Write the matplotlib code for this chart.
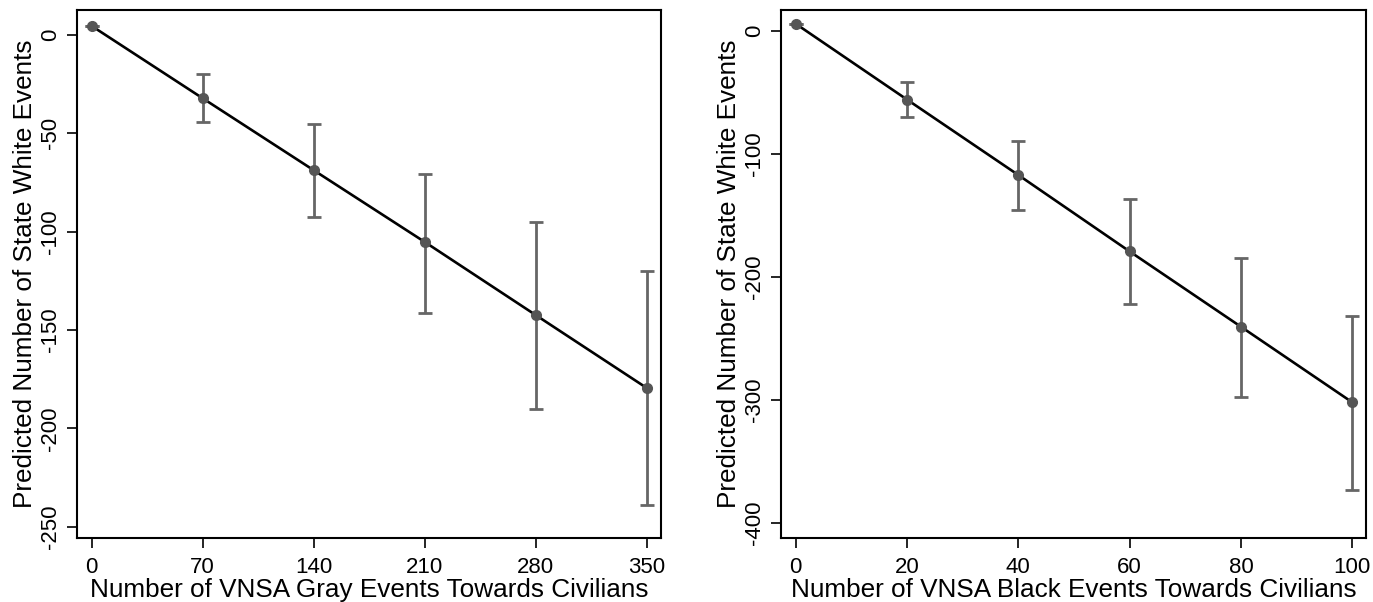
import matplotlib
matplotlib.use("Agg")
import matplotlib.pyplot as plt
import numpy as np

plt.rcParams["font.family"] = ["Liberation Sans", "DejaVu Sans"]
plt.rcParams["axes.unicode_minus"] = False

# Left panel: VNSA gray events
gray_x = [0, 70, 140, 210, 280, 350]
gray_pred = [4.6, -32.2, -68.8, -105.3, -142.5, -179.6]
gray_lo = [4.6, -44.1, -92.7, -141.3, -190.2, -238.8]
gray_hi = [4.6, -19.8, -45.3, -70.9, -94.9, -119.8]
gray_yticks = [0, -50, -100, -150, -200, -250]

# Right panel: VNSA black events
black_x = [0, 20, 40, 60, 80, 100]
black_pred = [5.6, -56.0, -117.3, -179.4, -240.6, -302.0]
black_lo = [5.6, -70.5, -145.7, -221.8, -297.3, -373.2]
black_hi = [5.6, -41.8, -89.5, -137.0, -184.4, -232.1]
black_yticks = [0, -100, -200, -300, -400]

ylabel = "Predicted Number of State White Events"
xlabels = ["Number of VNSA Gray Events Towards Civilians",
           "Number of VNSA Black Events Towards Civilians"]

fig = plt.figure(figsize=(13.73, 6.02), dpi=100)
ax1 = fig.add_axes([0.0561, 0.1063, 0.4253, 0.8771])
ax2 = fig.add_axes([0.5686, 0.1063, 0.4263, 0.8771])

panels = [
    (ax1, gray_x, gray_pred, gray_lo, gray_hi, gray_yticks, (-9.2, 358.8), (-255.8, 12.7)),
    (ax2, black_x, black_pred, black_lo, black_hi, black_yticks, (-2.7, 102.45), (-412.2, 16.8)),
]

for i, (ax, x, pred, lo, hi, yt, xl, yl) in enumerate(panels):
    pred = np.asarray(pred)
    err = np.vstack([pred - np.asarray(lo), np.asarray(hi) - pred])
    ax.errorbar(x, pred, yerr=err, fmt="none", ecolor="#666666",
                elinewidth=2.0, capsize=5, capthick=2.0, zorder=2)
    ax.plot(x, pred, color="black", lw=1.9, zorder=3)
    ax.plot(x, pred, "o", color="#555555", ms=7, zorder=4)
    ax.set_xlim(*xl)
    ax.set_ylim(*yl)
    ax.set_xticks(x)
    ax.set_yticks(yt)
    ax.tick_params(axis="both", direction="out", length=7, width=1.2,
                   labelsize=16, color="black", labelcolor="black")
    ax.tick_params(axis="x", pad=6.5)
    ax.tick_params(axis="y", pad=4.5)
    for lab in ax.get_yticklabels():
        lab.set_rotation(90)
        lab.set_va("center")
        lab.set_ha("right")
    for sp in ax.spines.values():
        sp.set_linewidth(1.5)
        sp.set_color("black")
    ax.set_xlabel(xlabels[i], fontsize=18.8)
    ax.set_ylabel(ylabel, fontsize=18.8)
    ax.xaxis.set_label_coords(0.5, -0.0755)
    ax.yaxis.set_label_coords(-0.0685, 0.5)

fig.savefig("out.png", dpi=100, facecolor="white")
